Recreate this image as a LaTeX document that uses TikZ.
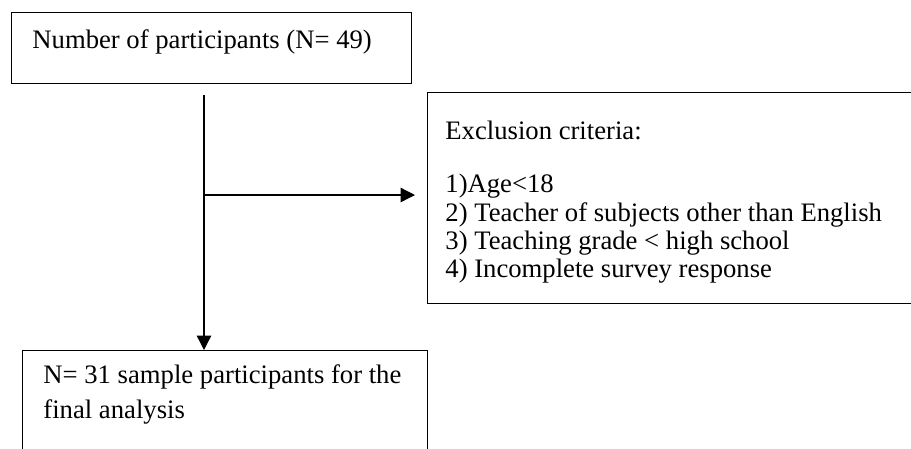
\documentclass[tikz,border=0pt]{standalone}
\usepackage{fontspec}
\setmainfont{Liberation Serif}
\usetikzlibrary{arrows.meta,positioning}

\begin{document}
\begin{tikzpicture}[
  x=0.45pt,y=-0.45pt,
  box/.style={draw,line width=0.6pt,rectangle,inner sep=0pt,anchor=north west},
  txt/.style={inner sep=0pt,align=left,font=\fontsize{12pt}{12.75pt}\selectfont},
  arr/.style={-{Triangle[length=6.5pt,width=6.5pt]},line width=0.6pt}
]
\clip (0,0) rectangle (911,448);
\node[box,minimum width=180pt,minimum height=31.95pt] (count) at (11,12) {};
\node[box,minimum width=224pt,minimum height=94.95pt] (excl) at (427,92) {};
\node[box,minimum width=182.25pt,minimum height=50pt] (final) at (22,350) {};
\node[txt,anchor=base west] (countText) at (32,48) {Number of participants (N= 49)};
\node[txt,anchor=north west] (exclText) at (445,121) {Exclusion criteria:\\[11pt]
  1)Age<18\\
  2) Teacher of subjects other than English\\
  3) Teaching grade < high school\\
  4) Incomplete survey response};
\node[txt,anchor=north west,font=\fontsize{12pt}{15.75pt}\selectfont] (finalText) at (43,364)
  {N= 31 sample participants for the\\ final analysis};
\coordinate (trunk) at (204,95);
\coordinate (branch) at (204,195);
\draw[arr] (trunk) -- (final.north -| trunk);
\draw[arr,shorten >=5.4pt] (branch) -- (excl.west |- branch);
\end{tikzpicture}
\end{document}
